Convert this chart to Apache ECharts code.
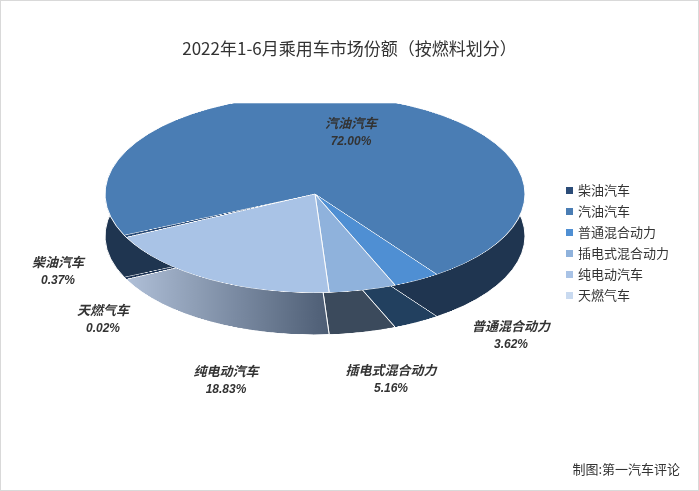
<!DOCTYPE html>
<html><head><meta charset="utf-8">
<script src="https://cdn.jsdelivr.net/npm/echarts@6/dist/echarts.min.js"></script>
<style>
html,body{margin:0;padding:0;background:#fff}
#wrap{position:relative;width:697px;height:489px;border:1px solid #d9d9d9;overflow:hidden}
.layer{position:absolute;left:0;top:0;width:697px;height:489px}
#side{transform-origin:314px 235px;transform:scaleY(0.47)}
#top{transform-origin:314px 193px;transform:scaleY(0.47)}
</style>
</head><body><div id="wrap"><div id="side" class="layer"></div><div id="top" class="layer"></div><div id="c" class="layer"></div></div>
<script>
const names = ['柴油汽车', '汽油汽车', '普通混合动力', '插电式混合动力', '纯电动汽车', '天燃气车'];
const shares = [0.37, 72.00, 3.62, 5.16, 18.83, 0.02];
const colors = ['#2b4c78', '#4a7db4', '#4f8fd3', '#8fb2dc', '#a9c3e6', '#c9daf0'];
const sideColors = ['#1e3556', '#1f3550', '#22405f', '#3b4a5c',
    new echarts.graphic.LinearGradient(0, 0, 1, 0, [{ offset: 0, color: '#b0c0d8' }, { offset: 1, color: '#4d5d74' }]), '#8090a8'];
// label anchor points for the text
const labelPos = [[57, 270], [350, 131], [510, 334], [390, 378], [225, 379], [102, 318]];

const data = names.map((n, i) => ({ name: n, value: shares[i] }));
function pieLayer(id, cy, cols) {
    const c = echarts.init(document.getElementById(id));
    c.setOption({
        animation: false,
        series: [{
            type: 'pie', center: [314, cy], radius: 210, startAngle: 206,
            color: cols, label: { show: false }, labelLine: { show: false },
            itemStyle: { borderColor: '#fff', borderWidth: 1 },
            data: data
        }]
    });
}
pieLayer('side', 235, sideColors);
pieLayer('top', 193, colors);

const chart = echarts.init(document.getElementById('c'));
chart.setOption({
    animation: false,
    title: {
        text: '2022年1-6月乘用车市场份额（按燃料划分）',
        left: 'center', top: 34,
        textStyle: { fontSize: 17, fontWeight: 'normal', color: '#333', fontFamily: 'Noto Sans CJK SC' }
    },
    legend: {
        orient: 'vertical', left: 560, top: 178, itemWidth: 7, itemHeight: 7, itemGap: 8,
        icon: 'rect', data: names, selectedMode: false,
        textStyle: { fontSize: 13, color: '#333', fontFamily: 'Noto Sans CJK SC' }
    },
    graphic: [{
        type: 'text', right: 18, bottom: 14,
        style: { text: '制图:第一汽车评论', fill: '#333', font: '13px "Noto Sans CJK SC"' }
    }].concat(names.map((n, i) => ({
        type: 'text', x: labelPos[i][0], y: labelPos[i][1],
        style: {
            text: '{n|' + n + '}\n{v|' + shares[i].toFixed(2) + '%}', align: 'center', verticalAlign: 'middle',
            rich: {
                n: { fontSize: 13, fontWeight: 'bold', fontStyle: 'italic', fill: '#333', fontFamily: 'Noto Sans CJK SC', align: 'center', lineHeight: 20 },
                v: { fontSize: 12, fontWeight: 'bold', fontStyle: 'italic', fill: '#333', align: 'center', lineHeight: 18 }
            }
        }
    }))),
    series: [{ type: 'pie', radius: 0, data: names.map(n => ({ name: n, value: 1 })), color: colors, label: { show: false }, silent: true }]
});
</script></body></html>
